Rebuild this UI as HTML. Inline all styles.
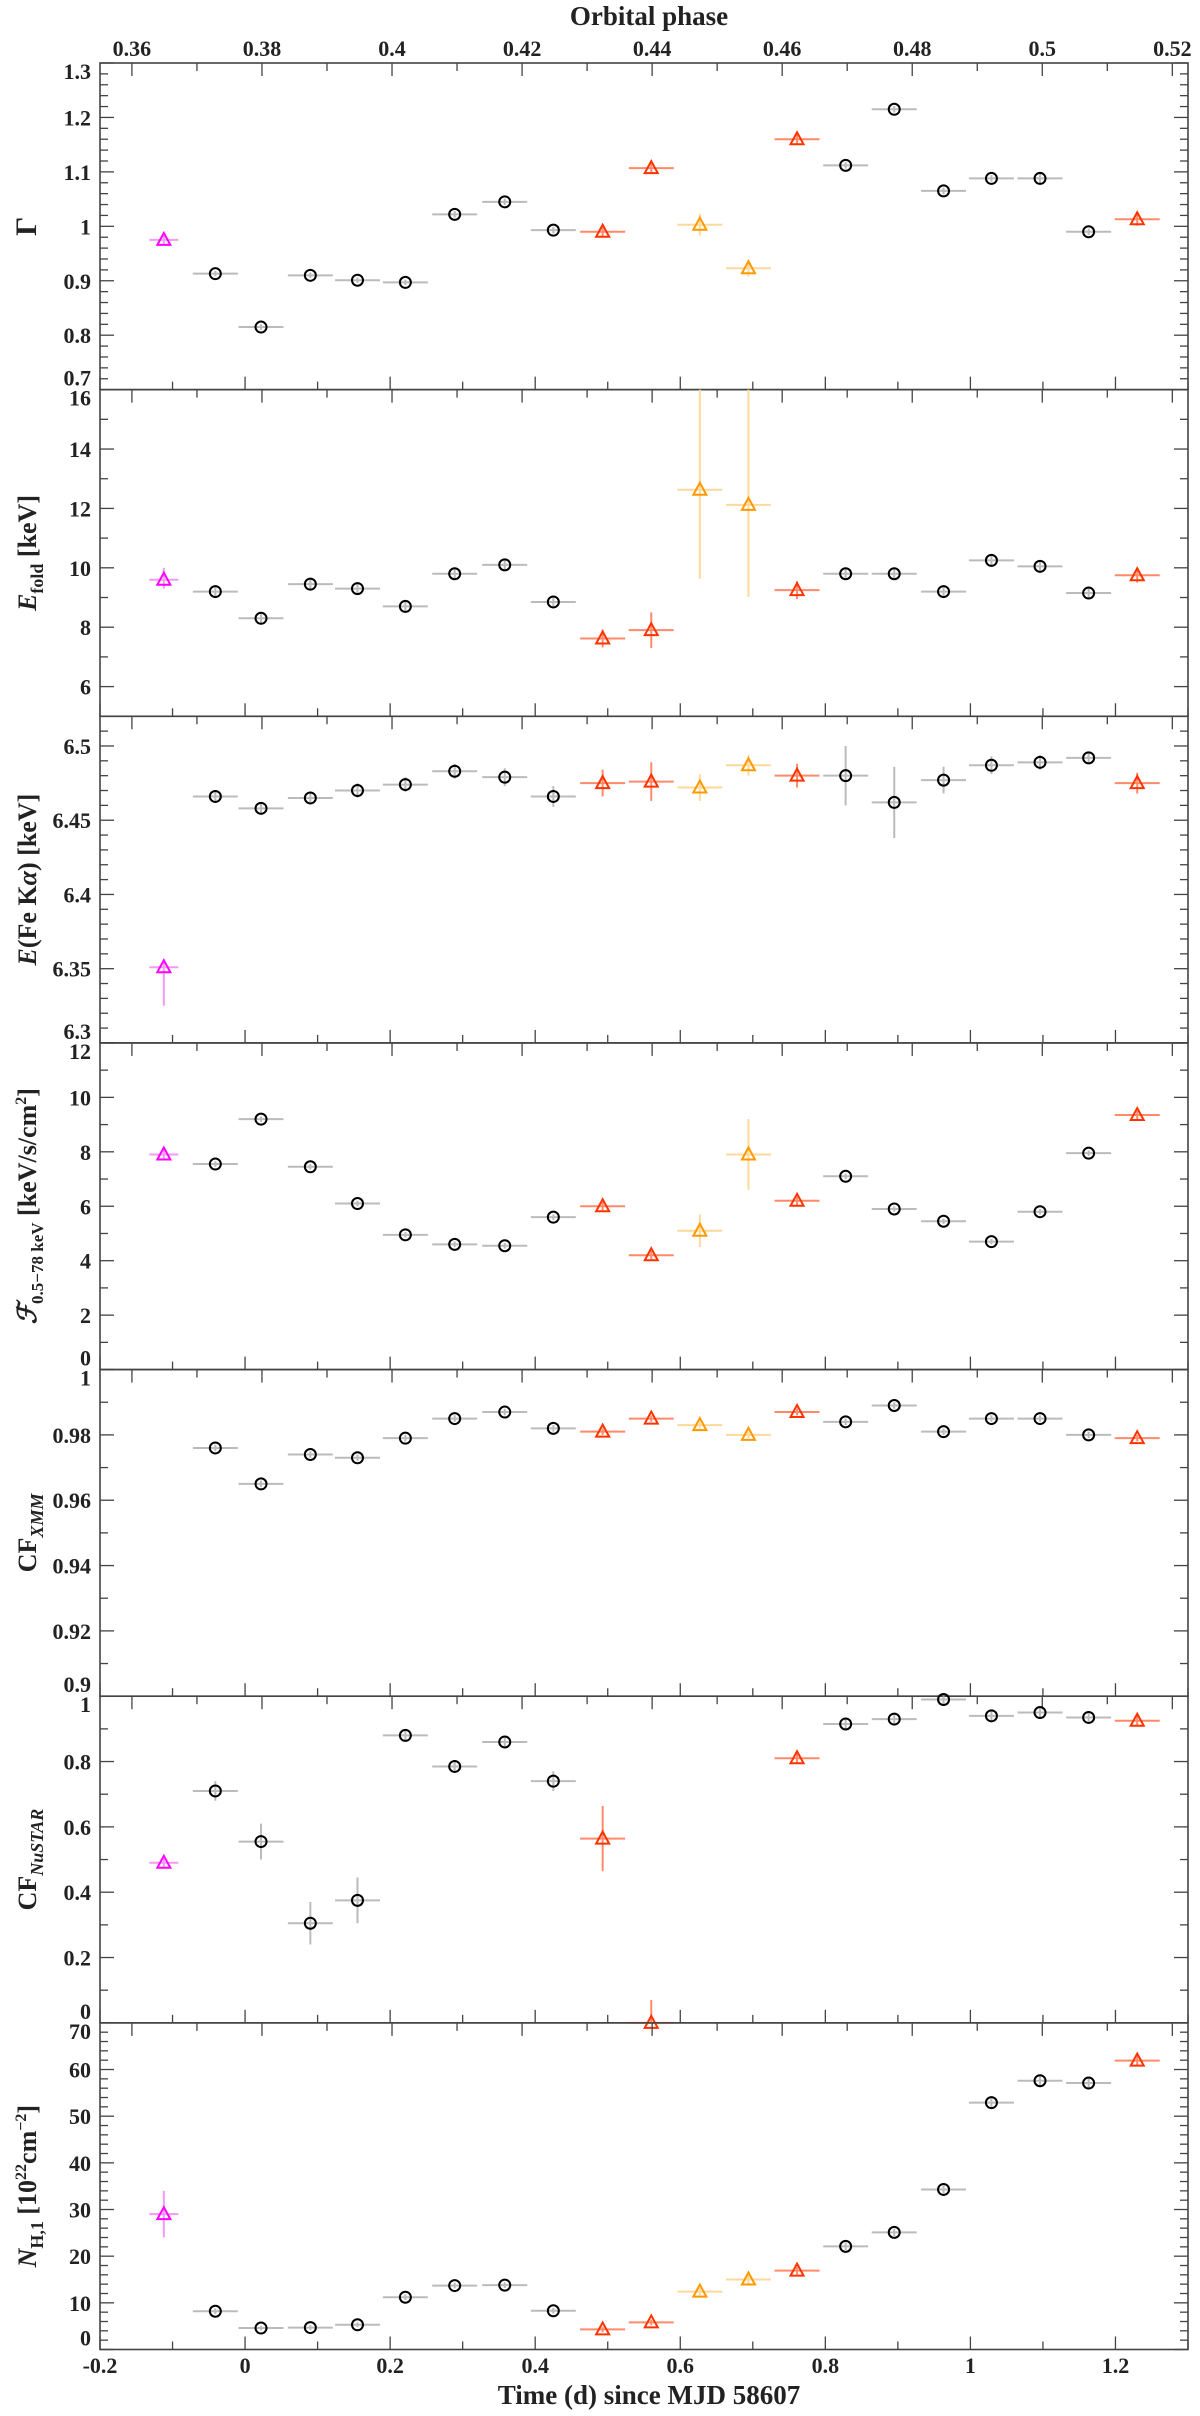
<!DOCTYPE html>
<html><head><meta charset="utf-8"><style>
html,body{margin:0;padding:0;background:#fff}
svg{display:block}
text{font-family:"Liberation Serif",serif;font-weight:bold;fill:#222}
</style></head><body>
<svg id="chart" width="1200" height="2416" viewBox="0 0 1200 2416" xmlns="http://www.w3.org/2000/svg"></svg>
<script>
// ---- data ----
const times = [-0.112,-0.041,0.022,0.090,0.155,0.221,0.289,0.358,0.425,0.493,0.560,0.627,0.694,0.761,0.828,0.895,0.963,1.029,1.096,1.163,1.230];
const groups = ['m','k','k','k','k','k','k','k','k','r','r','o','o','r','k','k','k','k','k','k','r'];
const gammaVals = [0.975,0.913,0.815,0.910,0.901,0.897,1.022,1.045,0.993,0.990,1.107,1.003,0.923,1.160,1.112,1.215,1.065,1.088,1.088,0.990,1.013];
const gammaErr  = [0.008,0.005,0.005,0.005,0.005,0.005,0.006,0.006,0.006,0.008,0.01,0.02,0.015,0.01,0.006,0.006,0.006,0.006,0.01,0.006,0.012];
const efoldVals = [9.6,9.2,8.3,9.45,9.3,8.7,9.8,10.1,8.85,7.62,7.9,12.63,12.12,9.25,9.8,9.8,9.2,10.25,10.05,9.15,9.75];
const efoldErrLo = [0.3,0.2,0.15,0.2,0.2,0.15,0.2,0.2,0.15,0.3,0.6,3.0,3.1,0.3,0.2,0.2,0.2,0.2,0.2,0.2,0.25];
const efoldErrHi = [0.4,0.2,0.15,0.2,0.2,0.15,0.2,0.2,0.15,0.3,0.6,4.0,4.5,0.3,0.2,0.2,0.2,0.2,0.2,0.2,0.25];
const feVals = [6.351,6.466,6.458,6.465,6.470,6.474,6.483,6.479,6.466,6.475,6.476,6.472,6.487,6.480,6.480,6.462,6.477,6.487,6.489,6.492,6.475];
const feErrLo = [0.026,0.004,0.004,0.004,0.005,0.005,0.005,0.006,0.007,0.009,0.013,0.009,0.007,0.008,0.02,0.024,0.009,0.006,0.005,0.004,0.007];
const feErrHi = [0.004,0.004,0.004,0.004,0.005,0.005,0.005,0.006,0.007,0.009,0.013,0.009,0.007,0.008,0.02,0.024,0.009,0.006,0.005,0.004,0.007];
const fluxVals = [7.9,7.55,9.2,7.45,6.1,4.95,4.6,4.55,5.6,6.0,4.2,5.1,7.9,6.2,7.1,5.9,5.45,4.7,5.8,7.95,9.35];
const fluxErr  = [0.2,0.1,0.1,0.1,0.1,0.1,0.1,0.1,0.1,0.15,0.15,0.6,1.3,0.15,0.1,0.1,0.1,0.1,0.1,0.1,0.15];
const cfxVals = [null,0.976,0.965,0.974,0.973,0.979,0.985,0.987,0.982,0.981,0.985,0.983,0.980,0.987,0.984,0.989,0.981,0.985,0.985,0.980,0.979];
const cfxErr  = [0,0.001,0.001,0.001,0.001,0.001,0.001,0.001,0.001,0.001,0.001,0.001,0.001,0.001,0.001,0.001,0.001,0.001,0.001,0.001,0.001];
const cfnVals = [0.49,0.71,0.555,0.305,0.375,0.88,0.785,0.86,0.74,0.564,0.0,null,null,0.81,0.915,0.93,0.99,0.94,0.95,0.935,0.925];
const cfnErr  = [0.015,0.03,0.055,0.065,0.07,0.015,0.015,0.015,0.03,0.1,0.07,0,0,0.015,0.015,0.015,0.015,0.015,0.015,0.015,0.015];
const nhVals = [29,8.2,4.6,4.7,5.3,11.2,13.7,13.8,8.3,4.3,5.8,12.4,15.0,16.9,22.1,25.1,34.3,52.9,57.6,57.1,61.9];
const nhErr  = [5,0.6,0.5,0.5,0.5,0.6,0.6,0.6,0.6,0.6,0.6,0.8,0.9,0.8,0.8,0.8,0.9,1,1,1,1.2];
const timeTicks = [-0.2,0,0.2,0.4,0.6,0.8,1,1.2];
const phaseTicks = [0.36,0.38,0.4,0.42,0.44,0.46,0.48,0.5,0.52];

// ---- layout ----
const NS="http://www.w3.org/2000/svg";
const svg=document.getElementById('chart');
const X0=100,X1=1188,TOP=63,BOT=2349.5,NP=7,PH=(BOT-TOP)/NP;
const XMIN=-0.2,XMAX=1.3;
const xs=t=>X0+(t-XMIN)/(XMAX-XMIN)*(X1-X0);
const phaseToT=p=>-0.156+(p-0.36)*8.965;
const colors={m:'#ff00ff',k:'#000',r:'#ff3300',o:'#ff9900'};
const ecolors={m:'#f39af3',k:'#bbbbbb',r:'#ff8a6a',o:'#ffd89a'};
function el(tag,attrs,parent){const e=document.createElementNS(NS,tag);for(const k in attrs)e.setAttribute(k,attrs[k]);(parent||svg).appendChild(e);return e;}
const fmt=v=>(+v.toFixed(4)).toString();

const panels=[
 {name:'gamma',vals:gammaVals,lo:gammaErr,hi:gammaErr,ymin:0.7,ymax:1.3,major:0.1,minor:0.02,label:'Γ'},
 {name:'efold',vals:efoldVals,lo:efoldErrLo,hi:efoldErrHi,ymin:5,ymax:16,major:2,minor:1,startMajor:6,label:'efold'},
 {name:'fe-line',vals:feVals,lo:feErrLo,hi:feErrHi,ymin:6.3,ymax:6.52,major:0.05,minor:0.01,label:'fe'},
 {name:'flux',vals:fluxVals,lo:fluxErr,hi:fluxErr,ymin:0,ymax:12,major:2,minor:1,label:'flux'},
 {name:'cf-xmm',vals:cfxVals,lo:cfxErr,hi:cfxErr,ymin:0.9,ymax:1.0,major:0.02,minor:0.01,label:'cfx'},
 {name:'cf-nustar',vals:cfnVals,lo:cfnErr,hi:cfnErr,ymin:0,ymax:1.0,major:0.2,minor:0.1,label:'cfn'},
 {name:'nh',vals:nhVals,lo:nhErr,hi:nhErr,ymin:0,ymax:70,major:10,minor:2,label:'nh'}
];

let t=el('text',{x:649,y:25,'font-size':27,'text-anchor':'middle'});


t.textContent='Orbital phase';
phaseTicks.forEach(p=>{const tx=el('text',{x:xs(phaseToT(p)),y:56,'font-size':22,'text-anchor':'middle'});
 
 
 tx.textContent=fmt(p);});
timeTicks.forEach(v=>{const tx=el('text',{x:xs(v),y:2373,'font-size':22,'text-anchor':'middle'});
 
 
 tx.textContent=fmt(v);});
t=el('text',{x:649,y:2404,'font-size':27,'text-anchor':'middle'});


t.textContent='Time (d) since MJD 58607';

function yLabel(g,kind,cy){
 const tx=el('text',{transform:`translate(36,${cy}) rotate(-90)`,'font-size':26,'text-anchor':'middle'},g);
 
 
 const sp=(txt,opts)=>{const s=el('tspan',opts||{},tx);s.textContent=txt;return s;};
 if(kind==='Γ'){sp('Γ',{'font-size':30});}
 else if(kind==='efold'){sp('E',{'font-style':'italic'});sp('fold',{'font-size':18,dy:7});sp(' [keV]',{dy:-7});}
 else if(kind==='fe'){sp('E',{'font-style':'italic'});sp('(Fe K');sp('α',{'font-style':'italic'});sp(') [keV]');}
 else if(kind==='flux'){sp('ℱ',{'font-style':'italic'});sp('0.5−78 keV',{'font-size':17,dy:7});sp(' [keV/s/cm',{dy:-7});sp('2',{'font-size':16,dy:-10});sp(']',{dy:10});}
 else if(kind==='cfx'){sp('CF');sp('XMM',{'font-size':18,dy:7,'font-style':'italic'});}
 else if(kind==='cfn'){sp('CF');sp('NuSTAR',{'font-size':18,dy:7,'font-style':'italic'});}
 else if(kind==='nh'){sp('N',{'font-style':'italic'});sp('H,1',{'font-size':18,dy:7});sp(' [10',{dy:-7});sp('22',{'font-size':16,dy:-10});sp('cm',{dy:10});sp('−2',{'font-size':16,dy:-10});sp(']',{dy:10});}
}

panels.forEach((P,i)=>{
 const top=TOP+i*PH,bot=top+PH;
 const g=el('g',{});
 
 
 const ys=v=>bot-(v-P.ymin)/(P.ymax-P.ymin)*PH;
 const base=P.startMajor!==undefined?P.startMajor:P.ymin;
 const nMin=Math.round((P.ymax-P.ymin)/P.minor);
 for(let k=0;k<=nMin;k++){
  const v=P.ymin+k*P.minor;const y=ys(v);
  const d=v-base;
  const isMaj=Math.abs(Math.round(d/P.major)*P.major-d)<1e-6;
  const L=isMaj?14:8;
  el('line',{x1:X0,x2:X0+L,y1:y,y2:y,stroke:'#444','stroke-width':1.3},g);
  el('line',{x1:X1,x2:X1-L,y1:y,y2:y,stroke:'#444','stroke-width':1.3},g);
  if(isMaj){
   let ly=y+8; if(ly<top+14)ly=top+16; if(ly>bot-2)ly=bot-4;
   const tx=el('text',{x:91,y:ly,'font-size':22,'text-anchor':'end'},g);
   
   
   tx.textContent=fmt(v);
  }
 }
 for(let k=0;k<=15;k++){const v=XMIN+k*0.1;const x=xs(v);const L=(k%2===0)?13:8;
  el('line',{x1:x,x2:x,y1:bot,y2:bot-L,stroke:'#444','stroke-width':1.3},g);}
 for(let k=0;k<=16;k++){const p=0.36+k*0.01;const x=xs(phaseToT(p));const L=(k%2===0)?13:8;
  el('line',{x1:x,x2:x,y1:top,y2:top+L,stroke:'#444','stroke-width':1.3},g);}
 el('rect',{x:X0,y:top,width:X1-X0,height:PH,fill:'none',stroke:'#444','stroke-width':1.6},g);
 yLabel(g,P.label,(top+bot)/2);
 P.vals.forEach((v,j)=>{
  if(v===null)return;
  const grp=groups[j];const x=xs(times[j]);
  const hw=(grp==='m')?0.02:0.031;
  const y=ys(v);
  const yl=Math.min(bot,ys(v-P.lo[j])),yh=Math.max(top,ys(v+P.hi[j]));
  const pg=el('g',{},g);
  
  
  el('line',{x1:xs(times[j]-hw),x2:xs(times[j]+hw),y1:y,y2:y,stroke:ecolors[grp],'stroke-width':2},pg);
  el('line',{x1:x,x2:x,y1:yl,y2:yh,stroke:ecolors[grp],'stroke-width':2},pg);
  if(grp==='k') el('circle',{cx:x,cy:y,r:5.5,fill:'none',stroke:'#000','stroke-width':2},pg);
  else el('polygon',{points:`${x-6.5},${y+5} ${x+6.5},${y+5} ${x},${y-7}`,fill:'none',stroke:colors[grp],'stroke-width':2},pg);
 });
});
</script>
</body></html>
